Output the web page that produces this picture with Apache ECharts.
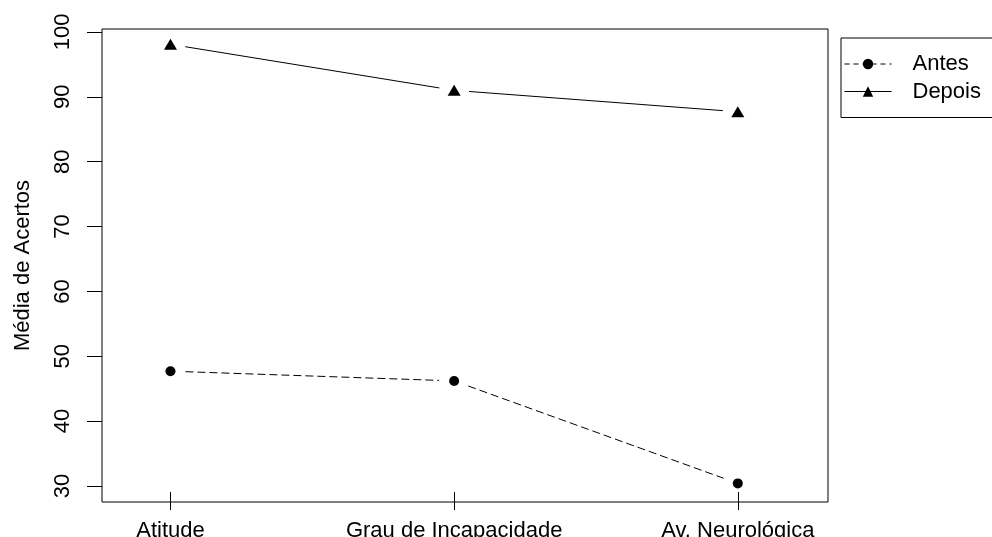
<!DOCTYPE html>
<html>
<head>
<meta charset="utf-8">
<script src="https://cdn.jsdelivr.net/npm/echarts@6/dist/echarts.min.js"></script>
<style>
html,body{margin:0;padding:0;background:#fff;}
#chart{width:992px;height:537px;}
</style>
</head>
<body>
<div id="chart"></div>
<script>
const categories = ['Atitude', 'Grau de Incapacidade', 'Av. Neurológica'];
const antes = [47.7, 46.2, 30.4];
const depois = [98.1, 91.0, 87.7];
const yTicks = [30, 40, 50, 60, 70, 80, 90, 100];
const seriesNames = ['Antes', 'Depois'];
const yTitle = 'Média de Acertos';

const xPos = categories.map((c, i) => i + 1);
function points(vals) { return vals.map((v, i) => [xPos[i], v]); }
function segments(vals) {
  const s = [];
  for (let i = 0; i < vals.length - 1; i++) s.push([xPos[i], vals[i], xPos[i + 1], vals[i + 1]]);
  return s;
}
const FONT = '"Liberation Sans", Arial, sans-serif';
const GAP = 15;
function gapLine(dash) {
  return function (params, api) {
    const p1 = api.coord([api.value(0), api.value(1)]);
    const p2 = api.coord([api.value(2), api.value(3)]);
    const dx = p2[0] - p1[0], dy = p2[1] - p1[1];
    const len = Math.sqrt(dx * dx + dy * dy);
    const ux = dx / len, uy = dy / len;
    return {
      type: 'line',
      shape: { x1: p1[0] + ux * GAP, y1: p1[1] + uy * GAP, x2: p2[0] - ux * GAP, y2: p2[1] - uy * GAP },
      style: { stroke: '#000', lineWidth: 1, lineDash: dash }
    };
  };
}

const chart = echarts.init(document.getElementById('chart'), null, { renderer: 'canvas' });
chart.setOption({
  animation: false,
  backgroundColor: '#fff',
  textStyle: { fontFamily: FONT },
  grid: {
    left: 102, right: 164, top: 29, bottom: 35,
    containLabel: false, outerBoundsMode: 'none',
    show: true, borderColor: '#000', borderWidth: 1, backgroundColor: 'transparent'
  },
  legend: {
    orient: 'vertical',
    left: 841, top: 38,
    padding: [15, 40, 15, 3],
    borderColor: '#000', borderWidth: 1,
    itemWidth: 47, itemHeight: 13, itemGap: 5.5,
    textStyle: { fontSize: 22, color: '#000', fontFamily: FONT, padding: [0, 0, 0, 16] },
    lineStyle: { color: '#000', width: 1, opacity: 1 },
    data: [
      { name: seriesNames[0], lineStyle: { type: [5, 4], color: '#000', width: 1, opacity: 1 } },
      { name: seriesNames[1], lineStyle: { type: 'solid', color: '#000', width: 1, opacity: 1 } }
    ]
  },
  xAxis: [{
    type: 'value', min: 0.7586, max: 3.318,
    axisLine: { show: false },
    splitLine: { show: false },
    axisTick: { show: true, length: 8, inside: false, customValues: xPos, lineStyle: { color: '#000', width: 1 } },
    axisLabel: {
      show: true, customValues: xPos, margin: 18,
      fontSize: 22, color: '#000', fontFamily: FONT,
      formatter: v => categories[Math.round(v) - 1] || ''
    }
  }, {
    type: 'value', min: 0.7586, max: 3.318, position: 'bottom',
    axisLine: { show: false },
    splitLine: { show: false },
    axisTick: { show: true, length: 10, inside: true, customValues: xPos, lineStyle: { color: '#000', width: 1 } },
    axisLabel: { show: false }
  }],
  yAxis: {
    type: 'value', min: 27.53, max: 100.46,
    name: yTitle, nameLocation: 'middle', nameRotate: 90, nameGap: 68,
    nameTextStyle: { fontSize: 22, color: '#000', fontFamily: FONT },
    axisLine: { show: false },
    splitLine: { show: false },
    axisTick: { show: true, length: 15, inside: false, customValues: yTicks, lineStyle: { color: '#000', width: 1 } },
    axisLabel: { show: true, customValues: yTicks, rotate: 90, margin: 28, fontSize: 22, color: '#000', fontFamily: FONT }
  },
  series: [
    {
      name: seriesNames[0], type: 'line', data: points(antes),
      symbol: 'circle', symbolSize: 10,
      itemStyle: { color: '#000' },
      lineStyle: { opacity: 0, type: 'dashed', color: '#000' },
      z: 3
    },
    {
      name: seriesNames[1], type: 'line', data: points(depois),
      symbol: 'triangle', symbolSize: [13, 11],
      itemStyle: { color: '#000' },
      lineStyle: { opacity: 0, color: '#000' },
      z: 3
    },
    {
      type: 'custom', data: segments(antes), renderItem: gapLine([8, 4]),
      encode: { x: [0, 2], y: [1, 3] }, silent: true, z: 2
    },
    {
      type: 'custom', data: segments(depois), renderItem: gapLine(null),
      encode: { x: [0, 2], y: [1, 3] }, silent: true, z: 2
    }
  ]
});
</script>
</body>
</html>
